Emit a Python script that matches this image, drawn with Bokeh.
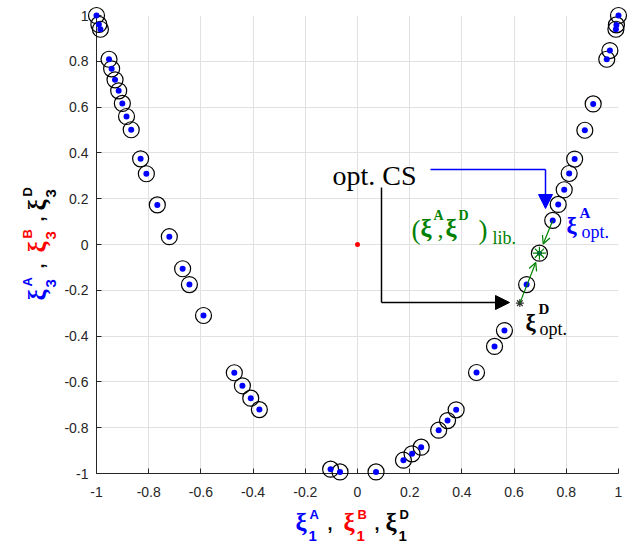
import numpy as np
from bokeh.plotting import figure
from bokeh.models import Range1d, FixedTicker, Arrow, NormalHead, OpenHead
from bokeh.core.properties import value
from bokeh.embed import file_html
from bokeh.resources import INLINE

# ---- data -------------------------------------------------------------
cand_x = [-1.000, -0.991, -0.985, -0.952, -0.942, -0.929, -0.915, -0.901, -0.885, -0.867,
          -0.831, -0.809, -0.767, -0.721, -0.670, -0.644, -0.590, -0.472, -0.441, -0.409,
          -0.376, -0.103, -0.067, 0.071, 0.176, 0.209, 0.244, 0.311, 0.345, 0.378,
          0.456, 0.525, 0.563, 0.648, 0.748, 0.769, 0.792, 0.811, 0.832, 0.871,
          0.903, 0.955, 0.967, 0.990, 0.992, 1.000]
cand_y = [1.000, 0.961, 0.940, 0.809, 0.767, 0.719, 0.671, 0.616, 0.559, 0.501,
          0.374, 0.309, 0.173, 0.034, -0.106, -0.175, -0.310, -0.560, -0.617, -0.671,
          -0.721, -0.981, -0.993, -0.993, -0.942, -0.914, -0.885, -0.811, -0.769, -0.722,
          -0.559, -0.445, -0.376, -0.175, 0.105, 0.175, 0.239, 0.310, 0.373, 0.499,
          0.614, 0.809, 0.847, 0.940, 0.959, 1.000]
lib_x = [0.697]
lib_y = [-0.038]
optA_x = [0.748]
optA_y = [0.105]
optD_x = [0.622]
optD_y = [-0.256]
origin_x = [0.0]
origin_y = [0.0]
ticks = [-1, -0.8, -0.6, -0.4, -0.2, 0, 0.2, 0.4, 0.6, 0.8, 1]
tick_labels = ["-1", "-0.8", "-0.6", "-0.4", "-0.2", "0", "0.2", "0.4", "0.6", "0.8", "1"]

BLUE, RED, GREEN = "#0000ff", "#ff0000", "#008000"

# ---- figure geometry ----------------------------------------------------
ML, MR, MT, MB = 96, 12, 15, 72
FW, FH = 522, 458
p = figure(width=ML + FW + MR, height=MT + FH + MB,
           x_range=Range1d(-1, 1), y_range=Range1d(-1, 1),
           output_backend="svg", toolbar_location=None,
           min_border_left=ML, min_border_right=MR,
           min_border_top=MT, min_border_bottom=MB)
p.outline_line_color = None
p.background_fill_color = "white"
p.border_fill_color = "white"

# screen pixel -> data
X0, Y0 = ML, MT
def dx(px):
    return (px - X0) / FW * 2 - 1
def dy(py):
    return 1 - (py - Y0) / FH * 2

for ax in (p.xaxis[0], p.yaxis[0]):
    ax.ticker = FixedTicker(ticks=ticks)
    ax.major_label_overrides = dict(zip(ticks, tick_labels))
    ax.axis_line_color = "#262626"
    ax.major_tick_line_color = "#262626"
    ax.major_tick_in = 5
    ax.major_tick_out = 0
    ax.minor_tick_line_color = None
    ax.major_label_text_font = "Liberation Sans"
    ax.major_label_text_font_size = "14px"
    ax.major_label_text_color = "#262626"
p.xaxis.major_label_standoff = 13
p.yaxis.major_label_standoff = 8
for g in (p.xgrid[0], p.ygrid[0]):
    g.ticker = FixedTicker(ticks=ticks)
    g.grid_line_color = "#e1e1e1"
    g.grid_line_width = 1

# ---- data marks -----------------------------------------------------------
p.scatter(cand_x, cand_y, marker="circle", size=16, fill_color=None,
          line_color="black", line_width=1.2, level="overlay")
p.scatter(cand_x, cand_y, marker="circle", size=6, fill_color=BLUE,
          line_color=None, level="overlay")
p.scatter(lib_x, lib_y, marker="circle", size=16, fill_color=None,
          line_color="black", line_width=1.2, level="overlay")
p.scatter(lib_x, lib_y, marker="asterisk", size=13, line_color=GREEN,
          line_width=1.2, level="overlay")
p.scatter(lib_x, lib_y, marker="circle", size=5, fill_color="#006a3a",
          line_color=None, level="overlay")
p.scatter(optD_x, optD_y, marker="asterisk", size=8, line_color="#333333",
          line_width=1.2, level="overlay")
p.scatter(origin_x, origin_y, marker="circle", size=5, fill_color=RED,
          line_color=None, level="overlay")

# green arrows from optimum points towards the library point
def px_of(x, y):
    return X0 + (x + 1) / 2 * FW, Y0 + (1 - y) / 2 * FH
lx, ly = px_of(lib_x[0], lib_y[0])
for sx, sy in ((optA_x[0], optA_y[0]), (optD_x[0], optD_y[0])):
    spx, spy = px_of(sx, sy)
    vx, vy = lx - spx, ly - spy
    d = (vx ** 2 + vy ** 2) ** 0.5
    epx, epy = lx - vx / d * 10, ly - vy / d * 10
    p.add_layout(Arrow(x_start=sx, y_start=sy, x_end=dx(epx), y_end=dy(epy),
                       line_color=GREEN, line_width=1.2, level="overlay",
                       end=OpenHead(size=8, line_color=GREEN, line_width=1.2)))

# "opt. CS" callout arrows
p.line([dx(430), dx(545)], [dy(169), dy(169)], line_color=BLUE, line_width=1.5,
       level="overlay")
p.add_layout(Arrow(x_start=dx(545), y_start=dy(169), x_end=dx(545), y_end=dy(208),
                   line_color=BLUE, line_width=1.5, level="overlay",
                   end=NormalHead(size=14, fill_color=BLUE, line_color=BLUE)))
p.line([dx(381), dx(381)], [dy(187), dy(302)], line_color="black", line_width=1.5,
       level="overlay")
p.add_layout(Arrow(x_start=dx(381), y_start=dy(302), x_end=dx(509), y_end=dy(302),
                   line_color="black", line_width=1.5, level="overlay",
                   end=NormalHead(size=14, fill_color="black", line_color="black")))

# ---- texts -------------------------------------------------------------------
SERIF, SANS = "Liberation Serif", "Liberation Sans"
def lab(text, px, py, color, font, size, style="normal", angle=0.0):
    p.text(x=[dx(px)], y=[dy(py)], text=[text], text_color=color,
           text_font=value(font), text_font_size=f"{size}px",
           text_font_style=style, text_align="left",
           text_baseline="alphabetic", angle=angle, level="overlay")

lab("opt. CS", 332, 175, "black", SERIF, 28)

# (xi^A, xi^D)_lib.
lab("(", 411, 229, GREEN, SERIF, 27)
lab("\u03be", 420, 228, GREEN, SERIF, 25, "bold")
lab("A", 433, 215, GREEN, SERIF, 14, "bold")
lab(",", 437, 229, GREEN, SERIF, 24)
lab("\u03be", 445, 228, GREEN, SERIF, 25, "bold")
lab("D", 458, 215, GREEN, SERIF, 14, "bold")
lab(")", 478, 229, GREEN, SERIF, 27)
lab("lib.", 492, 237, GREEN, SERIF, 18)

# xi^A_opt.
lab("\u03be", 566, 225, BLUE, SERIF, 23, "bold")
lab("A", 579, 212, BLUE, SERIF, 15, "bold")
lab("opt.", 581, 231, BLUE, SERIF, 18)
# xi^D_opt.
lab("\u03be", 525, 322, "black", SERIF, 23, "bold")
lab("D", 538, 308, "black", SERIF, 15, "bold")
lab("opt.", 539, 328, "black", SERIF, 18)

# x axis label: xi_1^A , xi_1^B , xi_1^D
parts = [(0, BLUE, "A"), (48, RED, "B"), (90, "black", "D")]
x0 = 295
for off, col, sup in parts:
    lab("\u03be", x0 + off, 522, col, SERIF, 25, "bold")
    lab(sup, x0 + off + 14, 514, col, SANS, 13, "bold")
    lab("1", x0 + off + 13, 535, col, SANS, 15, "bold")
lab(",", x0 + 32, 523, "black", SANS, 18, "bold")
lab(",", x0 + 79, 523, "black", SANS, 18, "bold")

# y axis label (rotated): xi_3^A , xi_3^B , xi_3^D
ang = np.pi / 2
y0 = 300
for off, col, sup in parts:
    lab("\u03be", 37, y0 - off, col, SERIF, 25, "bold", ang)
    lab(sup, 27, y0 - off - 14, col, SANS, 13, "bold", ang)
    lab("3", 50, y0 - off - 13, col, SANS, 15, "bold", ang)
lab(",", 37, y0 - 32, "black", SANS, 18, "bold", ang)
lab(",", 37, y0 - 79, "black", SANS, 18, "bold", ang)

open("out.html", "w").write(file_html(p, INLINE))
